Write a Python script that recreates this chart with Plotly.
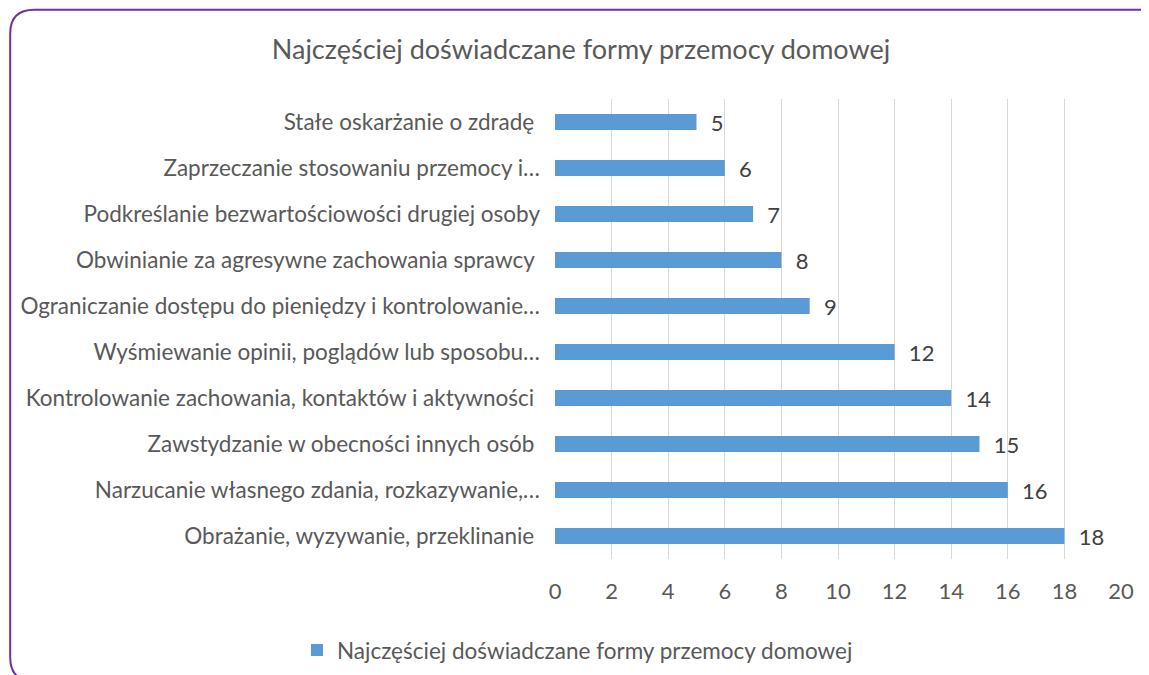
import plotly.graph_objects as go

categories = [
    "Stałe oskarżanie o zdradę ",
    "Zaprzeczanie stosowaniu przemocy i…",
    "Podkreślanie bezwartościowości drugiej osoby",
    "Obwinianie za agresywne zachowania sprawcy ",
    "Ograniczanie dostępu do pieniędzy i kontrolowanie…",
    "Wyśmiewanie opinii, poglądów lub sposobu…",
    "Kontrolowanie zachowania, kontaktów i aktywności ",
    "Zawstydzanie w obecności innych osób ",
    "Narzucanie własnego zdania, rozkazywanie,…",
    "Obrażanie, wyzywanie, przeklinanie ",
]
values = [5, 6, 7, 8, 9, 12, 14, 15, 16, 18]
series_name = "Najczęściej doświadczane formy przemocy domowej"
title_text = "Najczęściej doświadczane formy przemocy domowej"
x_ticks = [0, 2, 4, 6, 8, 10, 12, 14, 16, 18, 20]

OFF = 8  # page body margin
W, H = 1149 - OFF, 675 - OFF
# reference pixel positions of the plot area
PL, PR, PT, PB = 554.5, 1120.7, 98.7, 558.7
L, R, T, B = PL - OFF, W - (PR - OFF), PT - OFF, H - (PB - OFF)
pw, ph = W - L - R, H - T - B

def px(xp):
    return (xp - OFF - L) / pw

def py(yp):
    return (H - B - (yp - OFF)) / ph

FONT = "Lato"
GREY = "#595959"
FS = 22.5

fig = go.Figure()
fig.add_trace(go.Bar(
    y=categories, x=values, orientation="h", name=series_name,
    marker=dict(color="#5B9BD5", line=dict(width=0)),
    text=["\u00a0\u00a0" + str(v) for v in values],
    textposition="outside", cliponaxis=False, constraintext="none",
    textfont=dict(family=FONT, size=22, color="#404040"),
))

# rounded border
x0, y0, x1, y1, r = 9.5, 9.5, 1164, 681, 24
path = (
    f"M {px(x0+r)},{py(y0)} L {px(x1-r)},{py(y0)} Q {px(x1)},{py(y0)} {px(x1)},{py(y0+r)} "
    f"L {px(x1)},{py(y1-r)} Q {px(x1)},{py(y1)} {px(x1-r)},{py(y1)} "
    f"L {px(x0+r)},{py(y1)} Q {px(x0)},{py(y1)} {px(x0)},{py(y1-r)} "
    f"L {px(x0)},{py(y0+r)} Q {px(x0)},{py(y0)} {px(x0+r)},{py(y0)} Z"
)
fig.add_shape(type="path", path=path, xref="paper", yref="paper",
              line=dict(color="#7030A0", width=2), layer="above")

fig.update_layout(
    width=W, height=H,
    margin=dict(l=L, r=R, t=T, b=B, autoexpand=False),
    paper_bgcolor="white", plot_bgcolor="white",
    font=dict(family=FONT, color=GREY, size=FS),
    title=dict(text=title_text, x=(581 - OFF) / W, xref="container", xanchor="center",
               y=1 - (50 - OFF) / H, yref="container", yanchor="middle",
               font=dict(family=FONT, size=27, color=GREY)),
    bargap=0.65,
    showlegend=True,
    legend=dict(orientation="h", x=px(577), y=py(650), xanchor="center", yanchor="middle",
                font=dict(family=FONT, size=FS, color=GREY), itemwidth=30),
    xaxis=dict(range=[0, 20], tickvals=x_ticks, showgrid=True, gridcolor="#D9D9D9",
               gridwidth=1, zeroline=False, showline=False, ticks="",
               tickfont=dict(family=FONT, size=22, color=GREY), ticklabelstandoff=17),
    yaxis=dict(autorange="reversed", showgrid=False, zeroline=False, showline=False,
               ticks="", tickfont=dict(family=FONT, size=FS, color=GREY),
               ticklabelstandoff=14),
)

fig.write_html("out.html")
